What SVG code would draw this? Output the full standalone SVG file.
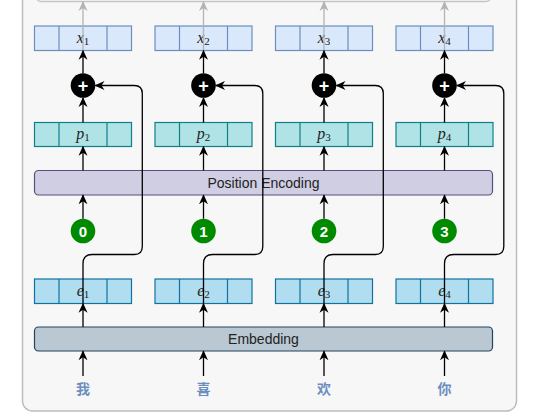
<svg xmlns="http://www.w3.org/2000/svg" width="554" height="416" viewBox="0 0 554 416">
<style>
.xb{fill:#dae8fc;stroke:#6c8ebf;stroke-width:1.2}
.pb{fill:#b0e3e6;stroke:#0e8088;stroke-width:1.2}
.eb{fill:#b1ddf0;stroke:#10739e;stroke-width:1.2}
.m{font-family:"Liberation Serif",serif;font-size:16px;fill:#222}
.m .v{font-style:italic}
.m .s{font-size:11px}
.lbl{font-family:"Liberation Sans",Arial,sans-serif;font-size:14px;fill:#222;text-anchor:middle}
.num{font-family:"Liberation Sans",Arial,sans-serif;font-size:15px;font-weight:bold;fill:#fff;text-anchor:middle}
.plus{font-family:"Liberation Sans",Arial,sans-serif;font-size:18px;font-weight:bold;fill:#fff;text-anchor:middle}
.zh{font-family:"Noto Sans CJK SC",sans-serif;font-size:14px;font-weight:bold;fill:#6c8ebf;text-anchor:middle}
.a{fill:none;stroke:#000;stroke-width:1.3;marker-end:url(#ah)}
.g{fill:none;stroke:#b3b3b3;stroke-width:1.3;marker-end:url(#gh)}
</style>
<defs>
<marker id="ah" viewBox="0 0 10 10" refX="9" refY="5" markerWidth="10" markerHeight="10" markerUnits="userSpaceOnUse" orient="auto"><path d="M0,0.5 L10,5 L0,9.5 L3,5 Z" fill="#000"/></marker>
<marker id="gh" viewBox="0 0 10 10" refX="9" refY="5" markerWidth="10" markerHeight="10" markerUnits="userSpaceOnUse" orient="auto"><path d="M0,0.5 L10,5 L0,9.5 L3,5 Z" fill="#b3b3b3"/></marker>
</defs>
<rect x="0" y="0" width="554" height="416" fill="#ffffff"/>
<g id="container"><rect x="22.5" y="-20" width="494" height="431" rx="10" fill="#f7f7f7" stroke="#bdbdbd" stroke-width="1.5"/></g>
<g id="upper"><rect x="35.5" y="-30" width="456" height="31.5" rx="6" fill="#f9f9f9" stroke="#c4c4c4" stroke-width="1.3"/></g>

<g id="x1"><rect class="xb" x="34.5" y="26" width="97" height="24.5"/><path class="xb" d="M59,26V50.5M107,26V50.5"/><text class="m" x="83" y="43" text-anchor="middle"><tspan class="v">x</tspan><tspan class="s" dy="2">1</tspan></text></g>
<g id="x2"><rect class="xb" x="155" y="26" width="97" height="24.5"/><path class="xb" d="M179.5,26V50.5M227.5,26V50.5"/><text class="m" x="203.5" y="43" text-anchor="middle"><tspan class="v">x</tspan><tspan class="s" dy="2">2</tspan></text></g>
<g id="x3"><rect class="xb" x="275.5" y="26" width="97" height="24.5"/><path class="xb" d="M300,26V50.5M348,26V50.5"/><text class="m" x="324" y="43" text-anchor="middle"><tspan class="v">x</tspan><tspan class="s" dy="2">3</tspan></text></g>
<g id="x4"><rect class="xb" x="396" y="26" width="97" height="24.5"/><path class="xb" d="M420.5,26V50.5M468.5,26V50.5"/><text class="m" x="444.5" y="43" text-anchor="middle"><tspan class="v">x</tspan><tspan class="s" dy="2">4</tspan></text></g>

<g id="p1"><rect class="pb" x="34.5" y="122.5" width="97" height="24"/><path class="pb" d="M59,122.5V146.5M107,122.5V146.5"/><text class="m" x="83" y="139" text-anchor="middle"><tspan class="v">p</tspan><tspan class="s" dy="2">1</tspan></text></g>
<g id="p2"><rect class="pb" x="155" y="122.5" width="97" height="24"/><path class="pb" d="M179.5,122.5V146.5M227.5,122.5V146.5"/><text class="m" x="203.5" y="139" text-anchor="middle"><tspan class="v">p</tspan><tspan class="s" dy="2">2</tspan></text></g>
<g id="p3"><rect class="pb" x="275.5" y="122.5" width="97" height="24"/><path class="pb" d="M300,122.5V146.5M348,122.5V146.5"/><text class="m" x="324" y="139" text-anchor="middle"><tspan class="v">p</tspan><tspan class="s" dy="2">3</tspan></text></g>
<g id="p4"><rect class="pb" x="396" y="122.5" width="97" height="24"/><path class="pb" d="M420.5,122.5V146.5M468.5,122.5V146.5"/><text class="m" x="444.5" y="139" text-anchor="middle"><tspan class="v">p</tspan><tspan class="s" dy="2">4</tspan></text></g>

<g id="e1"><rect class="eb" x="34.5" y="279" width="97" height="24.5"/><path class="eb" d="M59,279V303.5M107,279V303.5"/><text class="m" x="83" y="296" text-anchor="middle"><tspan class="v">e</tspan><tspan class="s" dy="2">1</tspan></text></g>
<g id="e2"><rect class="eb" x="155" y="279" width="97" height="24.5"/><path class="eb" d="M179.5,279V303.5M227.5,279V303.5"/><text class="m" x="203.5" y="296" text-anchor="middle"><tspan class="v">e</tspan><tspan class="s" dy="2">2</tspan></text></g>
<g id="e3"><rect class="eb" x="275.5" y="279" width="97" height="24.5"/><path class="eb" d="M300,279V303.5M348,279V303.5"/><text class="m" x="324" y="296" text-anchor="middle"><tspan class="v">e</tspan><tspan class="s" dy="2">3</tspan></text></g>
<g id="e4"><rect class="eb" x="396" y="279" width="97" height="24.5"/><path class="eb" d="M420.5,279V303.5M468.5,279V303.5"/><text class="m" x="444.5" y="296" text-anchor="middle"><tspan class="v">e</tspan><tspan class="s" dy="2">4</tspan></text></g>

<g id="pe"><rect x="34.5" y="170.5" width="458" height="24.5" rx="4" fill="#d0cee2" stroke="#56517e" stroke-width="1.2"/><text class="lbl" x="263.5" y="188">Position Encoding</text></g>
<g id="emb"><rect x="34.5" y="327" width="458" height="24" rx="4" fill="#bac8d3" stroke="#23445d" stroke-width="1.2"/><text class="lbl" x="263.5" y="344">Embedding</text></g>

<g id="plus1"><circle cx="83" cy="85.5" r="12.3" fill="#000"/><text class="plus" x="83" y="91.5">+</text></g>
<g id="plus2"><circle cx="203.5" cy="85.5" r="12.3" fill="#000"/><text class="plus" x="203.5" y="91.5">+</text></g>
<g id="plus3"><circle cx="324" cy="85.5" r="12.3" fill="#000"/><text class="plus" x="324" y="91.5">+</text></g>
<g id="plus4"><circle cx="444.5" cy="85.5" r="12.3" fill="#000"/><text class="plus" x="444.5" y="91.5">+</text></g>

<g id="pos0"><circle cx="83" cy="231" r="12.3" fill="#008a00"/><text class="num" x="83" y="236.5">0</text></g>
<g id="pos1"><circle cx="203.5" cy="231" r="12.3" fill="#008a00"/><text class="num" x="203.5" y="236.5">1</text></g>
<g id="pos2"><circle cx="324" cy="231" r="12.3" fill="#008a00"/><text class="num" x="324" y="236.5">2</text></g>
<g id="pos3"><circle cx="444.5" cy="231" r="12.3" fill="#008a00"/><text class="num" x="444.5" y="236.5">3</text></g>

<g id="w1"><text class="zh" x="83" y="393.5">我</text></g>
<g id="w2"><text class="zh" x="203.5" y="393.5">喜</text></g>
<g id="w3"><text class="zh" x="324" y="393.5">欢</text></g>
<g id="w4"><text class="zh" x="444.5" y="393.5">你</text></g>

<g id="connectors">
<path class="g" d="M83,50.5V2"/><path class="g" d="M203.5,50.5V2"/><path class="g" d="M324,50.5V2"/><path class="g" d="M444.5,50.5V2"/>
<path class="a" d="M83,73.2V50.8"/><path class="a" d="M203.5,73.2V50.8"/><path class="a" d="M324,73.2V50.8"/><path class="a" d="M444.5,73.2V50.8"/>
<path class="a" d="M83,122.5V98"/><path class="a" d="M203.5,122.5V98"/><path class="a" d="M324,122.5V98"/><path class="a" d="M444.5,122.5V98"/>
<path class="a" d="M83,170.5V146.8"/><path class="a" d="M203.5,170.5V146.8"/><path class="a" d="M324,170.5V146.8"/><path class="a" d="M444.5,170.5V146.8"/>
<path class="a" d="M83,218.7V195.3"/><path class="a" d="M203.5,218.7V195.3"/><path class="a" d="M324,218.7V195.3"/><path class="a" d="M444.5,218.7V195.3"/>
<path class="a" d="M83,327V303.8"/><path class="a" d="M203.5,327V303.8"/><path class="a" d="M324,327V303.8"/><path class="a" d="M444.5,327V303.8"/>
<path class="a" d="M83,376V351.3"/><path class="a" d="M203.5,376V351.3"/><path class="a" d="M324,376V351.3"/><path class="a" d="M444.5,376V351.3"/>
<path class="a" d="M83,303.5V263.5Q83,254.5 92,254.5H134.3Q142.3,254.5 142.3,246.5V93.5Q142.3,85.5 134.3,85.5H95.5"/>
<path class="a" d="M203.5,303.5V263.5Q203.5,254.5 212.5,254.5H254.8Q262.8,254.5 262.8,246.5V93.5Q262.8,85.5 254.8,85.5H216"/>
<path class="a" d="M324,303.5V263.5Q324,254.5 333,254.5H375.3Q383.3,254.5 383.3,246.5V93.5Q383.3,85.5 375.3,85.5H336.5"/>
<path class="a" d="M444.5,303.5V263.5Q444.5,254.5 453.5,254.5H495.8Q503.8,254.5 503.8,246.5V93.5Q503.8,85.5 495.8,85.5H457"/>
</g>
</svg>
